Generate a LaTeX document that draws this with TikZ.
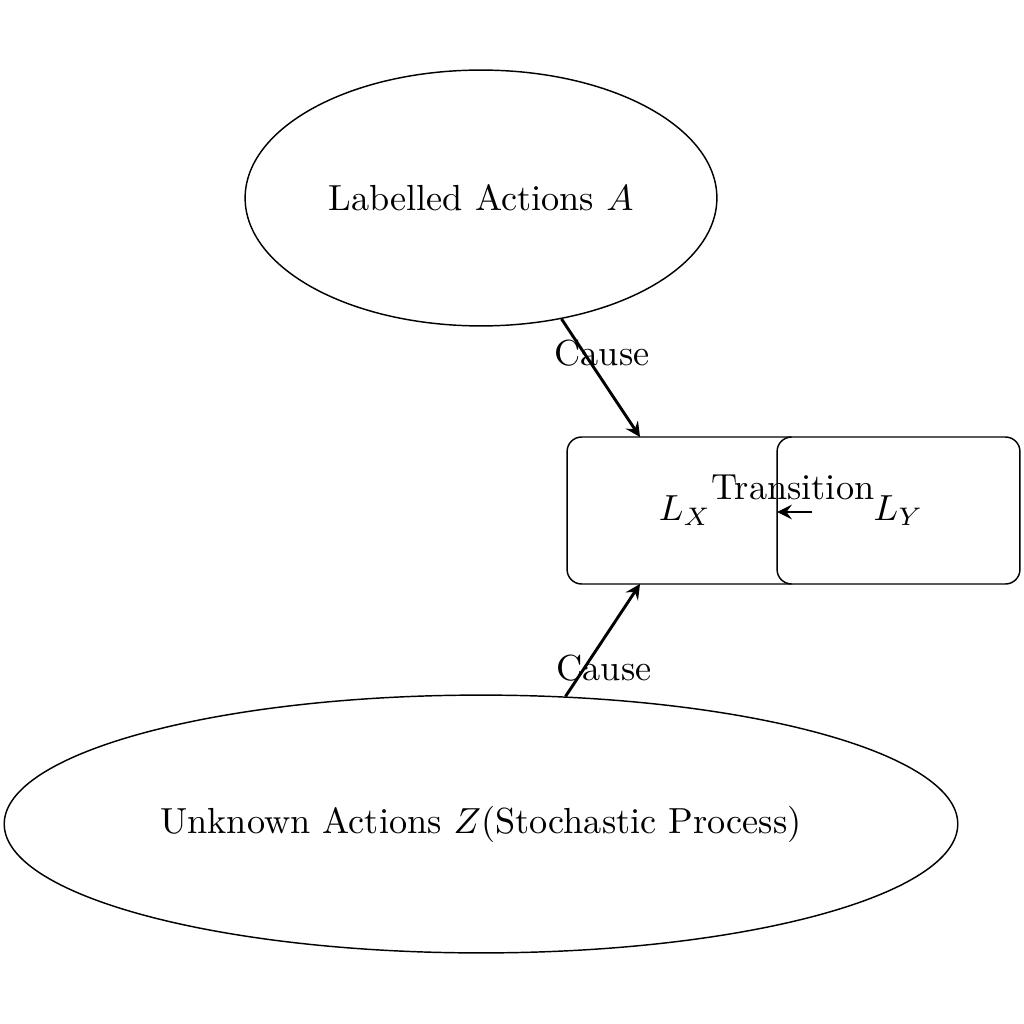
\documentclass[tikz,border=0pt]{standalone}
\usetikzlibrary{shapes.geometric,arrows}
\begin{document}
\begin{tikzpicture}[x=0.009684cm,y=-0.009684cm,
  ell/.style={draw,ellipse,inner sep=0pt},
  statebox/.style={draw,rectangle,rounded corners=4pt,minimum height=1.424cm,inner sep=0pt},
  causearrow/.style={->,>=stealth,thick},
  lbl/.style={inner sep=0pt}]
\useasboundingbox (0,0) rectangle (1024,1024);
\node[ell,minimum width=4.571cm,minimum height=2.479cm] (A) at (481,198) {Labelled Actions $A$};
\node[ell,minimum width=9.239cm,minimum height=2.498cm] (Z) at (481,824) {Unknown Actions $Z$(Stochastic Process)};
\node[statebox,minimum width=2.285cm] (LX) at (685,510.5) {$L_X$};
\node[statebox,minimum width=2.353cm,fill=white] (LY) at (898.5,510.5) {$L_Y$};
\coordinate (pa) at (640,437);
\coordinate (pz) at (640,584);
\coordinate (ts) at (812,512);
\coordinate (te) at (777,512);
\draw[causearrow] (A) -- (pa);
\draw[causearrow] (Z) -- (pz);
\draw[causearrow] (ts) -- (te);
\node[lbl] (c1) at (602,353) {Cause};
\node[lbl] (c2) at (604,668) {Cause};
\node[lbl] (tr) at (793,487) {Transition};
\end{tikzpicture}
\end{document}
